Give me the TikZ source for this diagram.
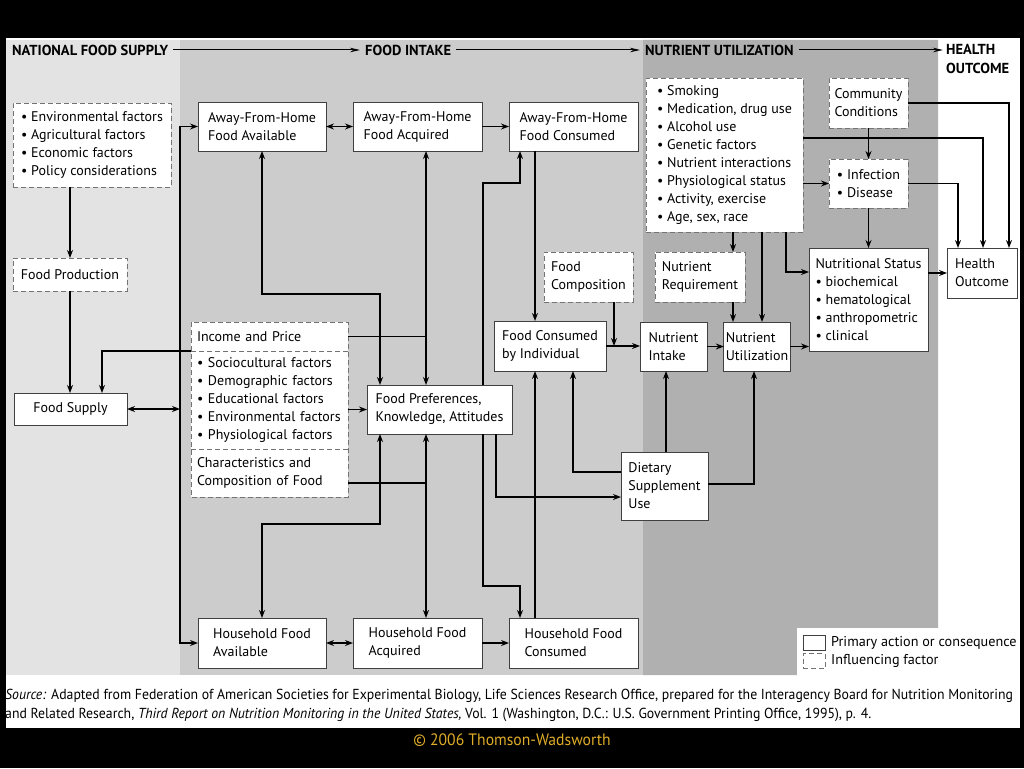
\documentclass[tikz,border=0pt]{standalone}
\usepackage{fontspec}
\setmainfont{PT Sans}
\newfontfamily\srcfont[FakeStretch=0.95]{PT Sans}
\usepackage{xcolor}
\usetikzlibrary{arrows.meta}
\definecolor{panelA}{gray}{0.89}
\definecolor{panelB}{gray}{0.80}
\definecolor{panelC}{gray}{0.69}
\definecolor{cpy}{RGB}{222,172,40}
\newcommand{\boxfont}{\fontsize{14}{18}\selectfont}
\newcommand{\hdfont}{\fontsize{14.5}{19}\selectfont\bfseries}
\tikzset{
  pbox/.style={draw=black!75,line width=1pt,fill=white,inner sep=2pt,outer sep=0pt,align=left,font=\boxfont},
  dbox/.style={pbox,draw=black!55,dash pattern=on 5pt off 3pt},
  ibox/.style={fill=white,inner xsep=6pt,inner ysep=0pt,outer sep=0pt,align=left,text width=145pt,font=\boxfont},
  arr/.style={line width=1.3pt,-{Stealth[length=8pt,width=6pt]}},
  dbl/.style={line width=1.3pt,{Stealth[length=8pt,width=6pt]}-{Stealth[length=8pt,width=6pt]}},
  ln/.style={line width=1.3pt},
  hdarr/.style={line width=1pt,-{Stealth[length=10pt,width=4.5pt]}},
  hd/.style={font=\hdfont,inner sep=5pt,anchor=west}
}
% box from corner (x1,y1) to (x2,y2), in pixels of the page
\newcommand{\bx}[7][pbox]{%
  \node[#1,minimum width={#5-#3},minimum height={#6-#4}] (#2) at ({(#3+#5)/2},{(#4+#6)/2}) {#7};}
\newcommand{\bl}{\textbullet\ }

\begin{document}
\begin{tikzpicture}[x=1pt,y=-1pt]
\useasboundingbox (0,0) rectangle (1024,768);
\fill[black] (0,0) rectangle (1024,768);
\fill[white] (6,38) rectangle (1020,728);
\fill[panelA] (6,40) rectangle (180,675);
\fill[panelB] (180,40) rectangle (643,675);
\fill[panelC] (643,40) -- (938,40) -- (938,628) -- (797,628) -- (797,675) -- (643,675) -- cycle;

% stage headings
\node[hd] (hnfs) at (7,50) {NATIONAL FOOD SUPPLY};
\node[hd] (hfi) at (360,50) {FOOD INTAKE};
\node[hd] (hnu) at (640,50) {NUTRIENT UTILIZATION};
\node[hd,anchor=north west,align=left,inner sep=3pt] (hho) at (943,41) {HEALTH\\OUTCOME};
\draw[hdarr] (hnfs.east) -- (hfi.west);
\draw[hdarr] (hfi.east) -- (hnu.west);
\draw[hdarr] (hnu.east) -- (hnu.east -| hho.west);

% national food supply
\bx[dbox]{envf}{13}{103}{171}{187}{\bl Environmental factors\\\bl Agricultural factors\\\bl Economic factors\\\bl Policy considerations}
\bx[dbox]{prod}{13}{258}{127}{291}{Food Production}
\bx{supply}{14}{393}{127}{425}{Food Supply}

% food intake
\bx{afhavail}{198}{102}{326}{151}{Away-From-Home\\Food Available}
\bx{afhacq}{353}{102}{482}{151}{Away-From-Home\\Food Acquired}
\bx{afhcons}{509}{102}{638}{151}{Away-From-Home\\Food Consumed}
\bx[ibox]{incp}{191}{322}{348}{351}{Income and Price}
\bx[ibox]{socf}{191}{351}{348}{449}{\bl Sociocultural factors\\\bl Demographic factors\\\bl Educational factors\\\bl Environmental factors\\\bl Physiological factors}
\bx[ibox]{charf}{191}{449}{348}{497}{Characteristics and\\Composition of Food}
\draw[black!55,line width=1pt,dash pattern=on 5pt off 3pt] (incp.north west) rectangle (charf.south east);
\draw[black!55,line width=1pt,dash pattern=on 5pt off 3pt] (incp.south west) -- (incp.south east);
\draw[black!55,line width=1pt,dash pattern=on 5pt off 3pt] (charf.north west) -- (charf.north east);
\bx{pref}{367}{385}{512}{434}{Food Preferences,\\Knowledge, Attitudes}
\bx{hhavail}{198}{618}{326}{668}{Household Food\\Available}
\bx{hhacq}{353}{618}{482}{668}{Household Food\\Acquired}
\bx{hhcons}{509}{618}{638}{668}{Household Food\\Consumed}
\bx[dbox]{fcomp}{544}{252}{633}{302}{Food\\Composition}
\bx{fci}{494}{321}{606}{371}{Food Consumed\\by Individual}
\bx{dietsup}{621}{452}{708}{520}{Dietary\\Supplement\\Use}

% nutrient utilization
\bx{nintake}{640}{322}{707}{371}{Nutrient\\Intake}
\bx{nutil}{724}{322}{790}{371}{Nutrient\\Utilization}
\bx[dbox]{factors}{646}{78}{803}{232}{\bl Smoking\\\bl Medication, drug use\\\bl Alcohol use\\\bl Genetic factors\\\bl Nutrient interactions\\\bl Physiological status\\\bl Activity, exercise\\\bl Age, sex, race}
\bx[dbox]{nreq}{655}{252}{745}{302}{Nutrient\\Requirement}
\bx[dbox]{commun}{829}{78}{908}{128}{Community\\Conditions}
\bx[dbox]{infect}{829}{159}{908}{208}{\bl Infection\\\bl Disease}
\bx{nstatus}{809}{248}{928}{351}{Nutritional Status\\\bl biochemical\\\bl hematological\\\bl anthropometric\\\bl clinical}
\bx{health}{947}{248}{1017}{298}{Health\\Outcome}

% connectors
\draw[arr] (envf.south -| 70,0) -- (prod.north -| 70,0);
\draw[arr] (prod.south -| 70,0) -- (supply.north -| 70,0);
\draw[arr] (incp.south west) -| (supply.north -| 102,0);
\draw[dbl] (supply.east) -- (supply.east -| 180,0);
\draw[dbl] (afhavail.west) -| (180,400) |- (hhavail.west);
\draw[dbl] (afhavail.east) -- (afhacq.west);
\draw[arr] (afhacq.east) -- (afhcons.west);
\draw[dbl] (hhavail.east) -- (hhacq.west);
\draw[arr] (hhacq.east) -- (hhcons.west);
\draw[arr] (socf.east |- pref.west) -- (pref.west);
\draw[dbl] (afhavail.south) |- (380,294) -- (pref.north -| 380,0);
\draw[dbl] (afhacq.south -| 426,0) -- (pref.north -| 426,0);
\draw[ln] (incp.east) -- (incp.east -| 426,0);
\draw[ln] (charf.east |- 0,483) -- (426,483);
\draw[dbl] (pref.south -| 426,0) -- (hhacq.north -| 426,0);
\draw[dbl] (pref.south -| 380,0) |- (hhavail.north |- 0,524) -- (hhavail.north);
\draw[arr] (pref.north -| 483,0) |- (520,183) -- (afhcons.south -| 520,0);
\draw[arr] (pref.south -| 483,0) |- (520,586) -- (hhcons.north -| 520,0);
\draw[arr] (afhcons.south -| 535,0) -- (fci.north -| 535,0);
\draw[arr] (hhcons.north -| 535,0) -- (fci.south -| 535,0);
\draw[arr] (fcomp.south -| 614,0) -- (fci.east -| 614,0);
\draw[arr] (fci.east) -- (fci.east -| nintake.west);
\draw[arr] (nintake.east) -- (nutil.west);
\draw[arr] (nutil.east) -- (nutil.east -| nstatus.west);
\draw[arr] (dietsup.west |- 0,472) -| (fci.south -| 573,0);
\draw[arr] (pref.south -| 496,0) |- (dietsup.west |- 0,497);
\draw[arr] (dietsup.north -| 666,0) -- (nintake.south -| 666,0);
\draw[arr] (dietsup.east |- 0,484) -| (nutil.south -| 754,0);
\draw[arr] (factors.south -| 733,0) -- (nreq.north -| 733,0);
\draw[arr] (nreq.south -| 733,0) -- (nutil.north -| 733,0);
\draw[arr] (factors.south -| 762,0) -- (nutil.north -| 762,0);
\draw[arr] (factors.south -| 786,0) |- (nstatus.west |- 0,272);
\draw[arr] (factors.east |- infect.west) -- (infect.west);
\draw[arr] (factors.east |- 0,138) -| (health.north -| 983,0);
\draw[arr] (commun.east) -| (health.north -| 1009,0);
\draw[arr] (commun.south) -- (infect.north);
\draw[arr] (infect.south) -- (infect.south |- nstatus.north);
\draw[arr] (infect.east) -| (health.north -| 958,0);
\draw[arr] (nstatus.east |- health.west) -- (health.west);

% legend
\fill[white] (797,628) rectangle (1020,675);
\node[pbox,minimum width=22,minimum height=15] (lgp) at (814,643) {};
\node[dbox,minimum width=22,minimum height=15] (lgd) at (814,661) {};
\node[anchor=west,font=\fontsize{14.2}{18}\selectfont,inner xsep=6pt] (lgpt) at (lgp.east) {Primary action or consequence};
\node[anchor=west,font=\fontsize{14.2}{18}\selectfont,inner xsep=6pt] (lgdt) at (lgd.east) {Influencing factor};

% source and credit
\node[anchor=north west,align=left,inner sep=0pt,font=\srcfont\fontsize{14.5}{19}\selectfont] (src) at (5,689) {\textit{Source:} Adapted from Federation of American Societies for Experimental Biology, Life Sciences Research Office, prepared for the Interagency Board for Nutrition Monitoring\\and Related Research, \textit{Third Report on Nutrition Monitoring in the United States,} Vol. 1 (Washington, D.C.: U.S. Government Printing Office, 1995), p. 4.};
\node[font=\srcfont\fontsize{16.5}{20}\selectfont,text=cpy] (credit) at (512,740) {© 2006 Thomson-Wadsworth};
\end{tikzpicture}
\end{document}
